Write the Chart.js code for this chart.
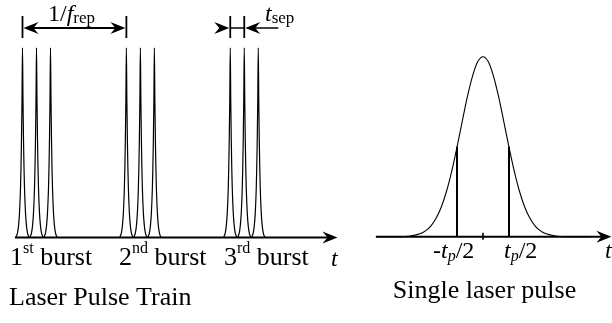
<!DOCTYPE html>
<html>
<head>
<meta charset="utf-8">
<script src="https://cdn.jsdelivr.net/npm/chart.js@4.4.1/dist/chart.umd.min.js"></script>
<style>
  html, body { margin: 0; padding: 0; background: #fff; }
  #wrap { position: relative; width: 612px; height: 323px; overflow: hidden; }
  canvas { position: absolute; top: 0; }
  #train { left: 0; }
  #single { left: 345px; }
</style>
</head>
<body>
<div id="wrap">
  <canvas id="train" width="345" height="323"></canvas>
  <canvas id="single" width="267" height="323"></canvas>
</div>
<script>
// Pulse train (time in units of t_sep, amplitude normalised to 1)
const pulseCenters = [0, 1, 2, 7.42, 8.42, 9.42, 14.84, 15.84, 16.84];
const pulseOffsets = [0, 0.036, 0.071, 0.107, 0.143, 0.214, 0.286, 0.357, 0.429, 0.5];
const pulseShape   = [1, 0.72, 0.52, 0.37, 0.26, 0.13, 0.06, 0.025, 0.008, 0];
const burstLabels  = [['1', 'st'], ['2', 'nd'], ['3', 'rd']];
const repPeriod    = [0, 7.42];     // 1/f_rep marker: first pulse of burst 1 and 2
const sepMarks     = [14.84, 15.84]; // t_sep marker: pulses 1 and 2 of burst 3

// Single pulse (time in units of t_p)
const gaussOffsets = [0, 0.1, 0.2, 0.3, 0.4, 0.5, 0.6, 0.7, 0.8, 0.9, 1.0, 1.1, 1.2, 1.4, 1.6, 2.06];
const gaussShape   = [1, 0.973, 0.894, 0.778, 0.64, 0.498, 0.366, 0.254, 0.167, 0.104, 0.061, 0.034, 0.018, 0.0042, 0.0008, 0];
const halfMarks    = [-0.5, 0.5];
const halfLevel    = 0.5;

const SERIF = '"Liberation Serif", "DejaVu Serif", serif';

function mirrorProfile(center, offsets, shape){
  const pts = [];
  for(let i = offsets.length - 1; i > 0; i--) pts.push({x: center - offsets[i], y: shape[i]});
  for(let i = 0; i < offsets.length; i++) pts.push({x: center + offsets[i], y: shape[i]});
  return pts;
}

function drawArrowHead(ctx, x, y, dir){
  // dir: 1 points right, -1 points left
  const L = 15, W = 6, N = 10;
  ctx.beginPath();
  ctx.moveTo(x, y);
  ctx.lineTo(x - dir * L, y - W);
  ctx.lineTo(x - dir * N, y);
  ctx.lineTo(x - dir * L, y + W);
  ctx.closePath();
  ctx.fill();
}

// draw a run of text pieces: [text, font, dy]
function drawRich(ctx, x, y, parts){
  let cx = x;
  parts.forEach(([txt, font, dy]) => {
    ctx.font = font;
    ctx.fillText(txt, cx, y + (dy || 0));
    cx += ctx.measureText(txt).width;
  });
  return cx;
}

function vline(ctx, x, y0, y1, w){
  ctx.lineWidth = w;
  ctx.beginPath(); ctx.moveTo(x, y0); ctx.lineTo(x, y1); ctx.stroke();
}
function hline(ctx, x0, x1, y, w){
  ctx.lineWidth = w;
  ctx.beginPath(); ctx.moveTo(x0, y); ctx.lineTo(x1, y); ctx.stroke();
}

const baseOpts = (xmin, xmax, ymin, ymax) => ({
  responsive: false,
  animation: false,
  devicePixelRatio: 1,
  layout: { padding: 0 },
  plugins: { legend: { display: false }, tooltip: { enabled: false } },
  elements: { point: { radius: 0 } },
  scales: {
    x: { type: 'linear', display: false, min: xmin, max: xmax },
    y: { type: 'linear', display: false, min: ymin, max: ymax }
  }
});

// ---------- left: laser pulse train ----------
const trainPts = [];
pulseCenters.forEach(c => trainPts.push(...mirrorProfile(c, pulseOffsets, pulseShape)));

const trainDecor = {
  id: 'trainDecor',
  afterDatasetsDraw(chart){
    const {ctx, scales: {x, y}} = chart;
    ctx.save();
    ctx.strokeStyle = '#000';
    ctx.fillStyle = '#000';
    ctx.lineCap = 'butt';

    // time axis
    const y0 = y.getPixelForValue(0);
    const tip = x.getPixelForValue(22.5);
    hline(ctx, x.getPixelForValue(-0.54), tip - 6, y0, 1.8);
    drawArrowHead(ctx, tip, y0, 1);

    // 1/f_rep marker
    const ya = 28, yt = 16, yb = 38;
    const r0 = x.getPixelForValue(repPeriod[0]), r1 = x.getPixelForValue(repPeriod[1]);
    vline(ctx, r0, yt, yb, 1.8);
    vline(ctx, r1, yt, yb, 1.8);
    hline(ctx, r0 + 6, r1 - 6, ya, 1.8);
    drawArrowHead(ctx, r0 + 1, ya, -1);
    drawArrowHead(ctx, r1 - 1, ya, 1);

    // t_sep marker
    const s0 = x.getPixelForValue(sepMarks[0]), s1 = x.getPixelForValue(sepMarks[1]);
    vline(ctx, s0, yt, yb, 1.8);
    vline(ctx, s1, yt, yb, 1.8);
    hline(ctx, s0, s1, ya, 1.5);
    drawArrowHead(ctx, s0 - 1, ya, 1);
    drawArrowHead(ctx, s1 + 1, ya, -1);
    hline(ctx, s1 + 8, s1 + 34, ya, 1.5);

    ctx.textBaseline = 'alphabetic';
    drawRich(ctx, 48, 20.5, [
      ['1/', `24px ${SERIF}`],
      ['f', `italic 24px ${SERIF}`],
      ['rep', `17px ${SERIF}`, 2]
    ]);
    drawRich(ctx, 265, 20.5, [
      ['t', `italic 24px ${SERIF}`],
      ['sep', `17px ${SERIF}`, 2]
    ]);

    // burst labels
    const lx = [10, 119, 224];
    burstLabels.forEach(([n, sup], i) => {
      drawRich(ctx, lx[i], 265, [
        [n, `26px ${SERIF}`],
        [sup, `16px ${SERIF}`, -12],
        [' burst', `26px ${SERIF}`]
      ]);
    });
    ctx.font = `italic 24px ${SERIF}`;
    ctx.fillText('t', 331, 266);

    ctx.font = `26px ${SERIF}`;
    ctx.fillText('Laser Pulse Train', 9, 305);
    ctx.restore();
  }
};

new Chart(document.getElementById('train'), {
  type: 'scatter',
  data: {
    datasets: [{
      data: trainPts,
      showLine: true,
      borderColor: '#000',
      borderWidth: 1.2,
      cubicInterpolationMode: 'monotone'
    }]
  },
  options: baseOpts(-1.607, 23.036, -0.451, 1.253),
  plugins: [trainDecor]
});

// ---------- right: single laser pulse ----------
const gaussPts = mirrorProfile(0, gaussOffsets, gaussShape);
const halfSets = halfMarks.map(m => ({
  data: [{x: m, y: 0}, {x: m, y: halfLevel}],
  showLine: true,
  borderColor: '#000',
  borderWidth: 2
}));

const singleDecor = {
  id: 'singleDecor',
  afterDatasetsDraw(chart){
    const {ctx, scales: {x, y}} = chart;
    ctx.save();
    ctx.strokeStyle = '#000';
    ctx.fillStyle = '#000';

    const y0 = y.getPixelForValue(0);
    const tip = x.getPixelForValue(2.47);
    hline(ctx, x.getPixelForValue(-2.06), tip - 6, y0, 1.8);
    drawArrowHead(ctx, tip, y0, 1);

    // centre tick
    const c = x.getPixelForValue(0);
    vline(ctx, c, y0 - 4, y0 + 3, 1.6);

    ctx.textBaseline = 'alphabetic';
    drawRich(ctx, x.getPixelForValue(-0.5) - 24, 258, [
      ['-', `24px ${SERIF}`],
      ['t', `italic 24px ${SERIF}`],
      ['p', `italic 16px ${SERIF}`, 3],
      ['/2', `24px ${SERIF}`]
    ]);
    drawRich(ctx, x.getPixelForValue(0.5) - 5, 258, [
      ['t', `italic 24px ${SERIF}`],
      ['p', `italic 16px ${SERIF}`, 3],
      ['/2', `24px ${SERIF}`]
    ]);
    ctx.font = `italic 24px ${SERIF}`;
    ctx.fillText('t', 260, 258);

    ctx.font = `26px ${SERIF}`;
    ctx.textAlign = 'center';
    ctx.fillText('Single laser pulse', c + 1.5, 298);
    ctx.restore();
  }
};

new Chart(document.getElementById('single'), {
  type: 'scatter',
  data: {
    datasets: [{
      data: gaussPts,
      showLine: true,
      borderColor: '#000',
      borderWidth: 1.1,
      cubicInterpolationMode: 'monotone'
    }, ...halfSets]
  },
  options: baseOpts(-2.654, 2.481, -0.479, 1.315),
  plugins: [singleDecor]
});
</script>
</body>
</html>
